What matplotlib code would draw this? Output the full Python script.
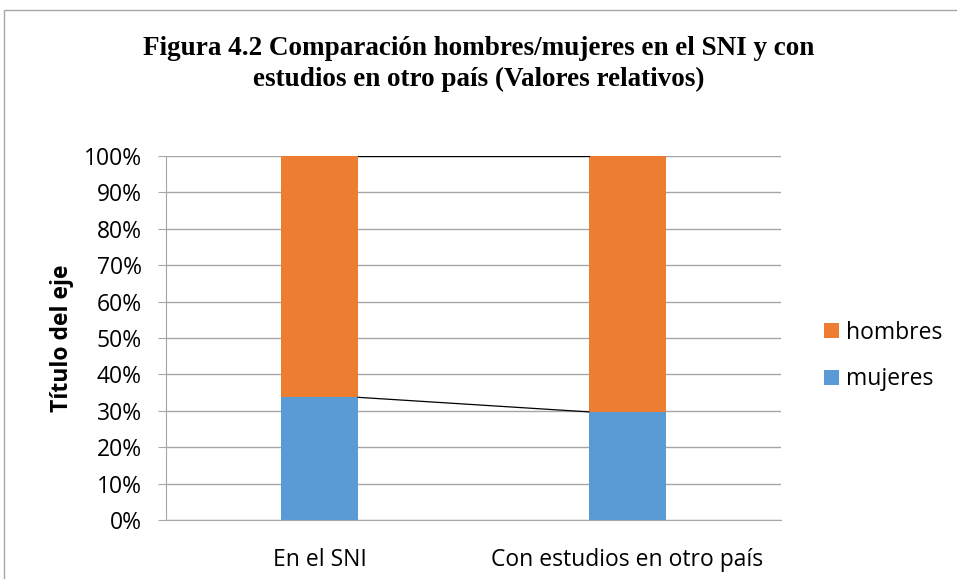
import numpy as np
import matplotlib.pyplot as plt
from matplotlib.patches import Rectangle

categorias = ['En el SNI', 'Con estudios en otro país']
mujeres = [33.7, 29.7]
hombres = [66.3, 70.3]

c_muj = '#5b9bd5'
c_hom = '#ed7d31'
gris = '#a6a6a6'

fig = plt.figure(figsize=(9.57, 5.79), dpi=100)
ax = fig.add_axes([166/957, 1 - 520/579, 615/957, 364/579])

x = np.arange(len(categorias))
ancho = 0.25
ax.bar(x, mujeres, ancho, color=c_muj, label='mujeres', zorder=3)
ax.bar(x, hombres, ancho, bottom=mujeres, color=c_hom, label='hombres', zorder=3)

# lineas de serie entre barras
tot = np.array(mujeres) + np.array(hombres)
ax.plot([x[0] + ancho/2, x[1] - ancho/2], [mujeres[0], mujeres[1]], color='black', lw=0.9, zorder=4)
ax.plot([x[0] + ancho/2, x[1] - ancho/2], [tot[0], tot[1]], color='black', lw=0.9, zorder=4)

ax.set_xlim(-0.5, 1.5)
ax.set_ylim(0, 100)
ax.set_yticks(np.arange(0, 101, 10))
ax.set_yticklabels([f'{v}%' for v in range(0, 101, 10)])
ax.set_xticks(x)
ax.set_xticklabels(categorias)
ax.grid(axis='y', color=gris, lw=1, zorder=0)
for s in ['top', 'right']:
    ax.spines[s].set_visible(False)
ax.spines['bottom'].set_color(gris)
ax.spines['left'].set_color(gris)
ax.tick_params(axis='y', length=6, color=gris, labelsize=16.5, pad=11.5)
ax.tick_params(axis='x', length=0, labelsize=16.5, pad=20)
for t in ax.get_xticklabels() + ax.get_yticklabels():
    t.set_fontfamily('Open Sans')

ax.set_ylabel('Título del eje', fontsize=16.5, fontweight='bold', fontfamily='Open Sans')
ax.yaxis.set_label_coords((74 - 166) / 615, 0.5)

h, l = ax.get_legend_handles_labels()
leg = fig.legend(h[::-1], l[::-1], loc='center left', bbox_to_anchor=(824/957, 1 - 356/579),
                 frameon=False, prop={'family': 'Open Sans', 'size': 16.5},
                 handlelength=0.65, handleheight=0.65, handletextpad=0.3, labelspacing=1.0,
                 borderpad=0, borderaxespad=0)

fig.text(0.5, 1 - 64/579, 'Figura 4.2 Comparación hombres/mujeres en el SNI y con\nestudios en otro país (Valores relativos)',
         ha='center', va='center', fontsize=19.5, fontweight='bold', fontfamily='Liberation Serif', linespacing=1.35)

fig.patches.append(Rectangle((4/957, -0.01), 1.0, 1 - 10/579 + 0.01, transform=fig.transFigure,
                             fill=False, edgecolor=gris, lw=1))

fig.savefig('out.png', dpi=100)
